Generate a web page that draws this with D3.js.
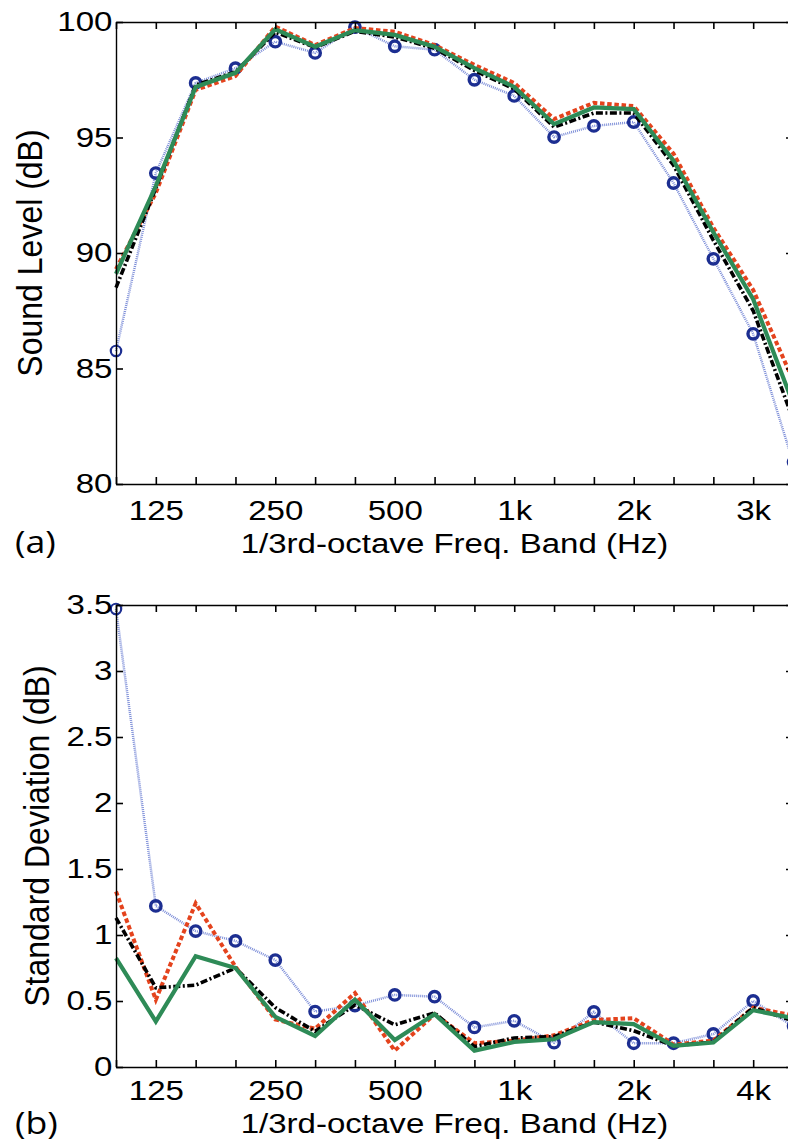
<!DOCTYPE html>
<html><head><meta charset="utf-8">
<script src="https://cdn.jsdelivr.net/npm/d3@7"></script>
<style>body{margin:0;background:#fff}svg{display:block}</style>
</head><body>
<svg id="c" width="788" height="1142"></svg>
<script>
// 1/3-octave band centres (index used for x)
const bands = ["100","125","160","200","250","315","400","500","630","800","1k","1.25k","1.6k","2k","2.5k","3.15k","4k","5k"];
const topTickLabels = ["","125","","","250","","","500","","","1k","","","2k","","","3k",""];
const botTickLabels = ["","125","","","250","","","500","","","1k","","","2k","","","4k",""];

// (a) Sound level (dB)
const levelBlue  = [85.76,93.46,97.36,98.0,99.15,98.66,99.78,98.95,98.8,97.5,96.8,95.02,95.5,95.67,93.03,89.75,86.5,80.95];
const levelRed   = [89.3,92.6,97.06,97.66,99.8,99.0,99.74,99.58,99.0,98.14,97.36,95.8,96.5,96.36,94.3,91.1,88.4,84.5];
const levelBlack = [88.5,92.8,97.27,97.84,99.56,98.9,99.6,99.35,98.86,97.9,97.1,95.45,96.06,96.06,93.8,90.55,87.5,82.8];
const levelGreen = [89.1,92.9,97.19,97.8,99.68,98.93,99.65,99.44,98.93,98.0,97.19,95.58,96.3,96.23,94.0,90.9,88.0,83.5];
const levelTicks = [80,85,90,95,100];

// (b) Standard deviation (dB)
const sdBlue  = [3.47,1.22,1.03,0.955,0.81,0.42,0.465,0.546,0.533,0.30,0.35,0.184,0.417,0.18,0.18,0.25,0.50,0.31];
const sdRed   = [1.33,0.51,1.24,0.76,0.36,0.29,0.56,0.124,0.40,0.18,0.20,0.24,0.356,0.37,0.17,0.20,0.45,0.39];
const sdBlack = [1.13,0.60,0.62,0.75,0.45,0.27,0.47,0.32,0.41,0.155,0.22,0.23,0.34,0.275,0.16,0.19,0.45,0.35];
const sdGreen = [0.825,0.345,0.84,0.75,0.38,0.235,0.51,0.205,0.40,0.124,0.19,0.21,0.34,0.325,0.16,0.185,0.43,0.37];
const sdTicks = [0,0.5,1,1.5,2,2.5,3,3.5];
const sdTickLabels = ["0","0.5","1","1.5","2","2.5","3","3.5"];

const svg = d3.select("#c");
const FONT = "'Liberation Sans', Arial, sans-serif";
const SX = 1.18; // horizontal stretch of the original figure's text
const x = d3.scaleLinear().domain([0, bands.length - 1]).range([116, 793]);

const styles = {
  blue:  {stroke:"#7d8ed8", width:2.5, dash:"1,1"},
  red:   {stroke:"#e4431d", width:4,   dash:"4.5,2.7"},
  black: {stroke:"#000000", width:3.6, dash:"7,2.5,2,2.5"},
  green: {stroke:"#2e8b57", width:4.2, dash:null}
};

function panel(cfg) {
  const y = d3.scaleLinear().domain(cfg.ydom).range([cfg.bottom, cfg.top]);
  const g = svg.append("g");
  const line = d3.line().x((d,i) => x(i)).y(d => y(d));

  const series = [["blue", cfg.blue], ["red", cfg.red], ["black", cfg.black], ["green", cfg.green]];
  series.forEach(([k, data]) => {
    const s = styles[k];
    g.append("path").datum(data).attr("d", line)
      .attr("fill","none").attr("stroke", s.stroke).attr("stroke-width", s.width)
      .attr("stroke-dasharray", s.dash).attr("stroke-linejoin","miter");
    if (k === "blue") {
      g.selectAll("circle.m").data(data).join("circle").attr("class","m")
        .attr("cx",(d,i)=>x(i)).attr("cy",d=>y(d)).attr("r",5.2)
        .attr("fill","none").attr("stroke","#1c2e91")
        .attr("stroke-width",(d,i)=> (i===0||i===data.length-1) ? 2.2 : 3.4);
    }
  });

  const idx = d3.range(bands.length);
  const ax = g.append("g").attr("transform",`translate(0,${cfg.bottom})`)
    .call(d3.axisBottom(x).tickValues(idx).tickSizeInner(-7).tickSizeOuter(0)
      .tickPadding(cfg.xpad).tickFormat(i => cfg.xlabels[i]));
  const axt = g.append("g").attr("transform",`translate(0,${cfg.top})`)
    .call(d3.axisTop(x).tickValues(idx).tickSizeInner(-7).tickSizeOuter(0).tickFormat(""));
  const ay = g.append("g").attr("transform",`translate(${x.range()[0]},0)`)
    .call(d3.axisLeft(y).tickValues(cfg.yticks).tickSizeInner(-7).tickSizeOuter(0)
      .tickPadding(3).tickFormat((d,i) => cfg.ylabels[i]));
  const ayr = g.append("g").attr("transform",`translate(${x.range()[1]},0)`)
    .call(d3.axisRight(y).tickValues(cfg.yticks).tickSizeInner(-7).tickSizeOuter(0).tickFormat(""));

  [ax, axt, ay, ayr].forEach(a => {
    a.select(".domain").attr("stroke","#000").attr("stroke-width",1.4);
    a.selectAll(".tick line").attr("stroke","#000").attr("stroke-width",1.6);
    a.selectAll("text").attr("font-family", FONT).attr("font-size", 28).attr("fill","#000")
      .attr("transform", `scale(${SX},1)`);
  });

  // x title
  g.append("text")
    .attr("transform", `translate(${(x.range()[0] + x.range()[1]) / 2},${cfg.xtitleY}) scale(${SX},1)`)
    .attr("text-anchor","middle").attr("font-family", FONT).attr("font-size", 28)
    .text("1/3rd-octave Freq. Band (Hz)");
  // y title
  g.append("text")
    .attr("transform", `translate(${cfg.ytitleX},${(cfg.top + cfg.bottom) / 2}) scale(1.09,1) rotate(-90)`)
    .attr("text-anchor","middle").attr("font-family", FONT).attr("font-size", 32)
    .text(cfg.ytitle);
  // panel letter
  g.append("text").attr("transform", `translate(15,${cfg.letterY}) scale(1.15,1)`)
    .attr("font-family","'Open Sans', sans-serif").attr("font-size", 31)
    .text(cfg.letter);
}

panel({ydom:[80,100], top:22, bottom:484, blue:levelBlue, red:levelRed, black:levelBlack, green:levelGreen,
  xlabels: topTickLabels, xpad:16, yticks: levelTicks, ylabels: levelTicks.map(String),
  xtitleY: 553, ytitle: "Sound Level (dB)", ytitleX: 42, letter: "(a)", letterY: 553});

panel({ydom:[0,3.5], top:605, bottom:1067, blue:sdBlue, red:sdRed, black:sdBlack, green:sdGreen,
  xlabels: botTickLabels, xpad:13, yticks: sdTicks, ylabels: sdTickLabels,
  xtitleY: 1133, ytitle: "Standard Deviation (dB)", ytitleX: 49, letter: "(b)", letterY: 1134});
</script>
</body></html>
